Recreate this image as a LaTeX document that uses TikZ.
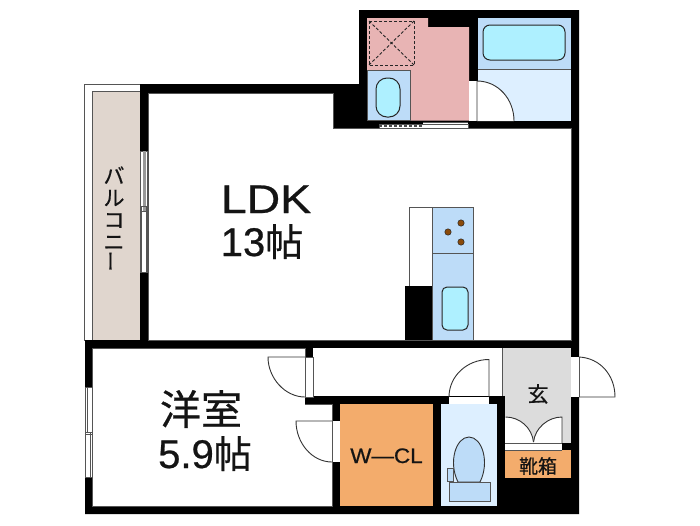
\documentclass[tikz,border=0pt]{standalone}
\usepackage{fontspec}
\setmainfont[FakeBold=0.6]{Liberation Sans}
\newfontfamily\cjk[FakeBold=0.6]{Noto Sans CJK JP}
\definecolor{beigeC}{HTML}{E0D6CE}
\definecolor{pinkC}{HTML}{E8B4B4}
\definecolor{blueC}{HTML}{BDDCF8}
\definecolor{lightC}{HTML}{DDEFFF}
\definecolor{cyanC}{HTML}{AEF0FF}
\definecolor{orangeC}{HTML}{F3AC6C}
\definecolor{grayC}{HTML}{DCDCDC}
\definecolor{edgeC}{HTML}{555555}
\definecolor{burnerC}{HTML}{8A4A0A}
\tikzset{
  room/.style={fill=#1,draw=none},
  doorline/.style={draw=black!80,line width=0.9pt},
  fixture/.style={draw=black!85,line width=1pt},
  lab/.style={inner sep=0pt,align=center,text=black!92},
  win/.style={fill=white,draw=edgeC,line width=0.5pt}
}
\begin{document}
\begin{tikzpicture}[x=1pt,y=-1pt]
\useasboundingbox (0,0) rectangle (700,525);
\fill[white] (0,0) rectangle (700,525);
% balcony
\draw[edgeC,line width=0.7pt,fill=white] (84,340) -- (84,84) -- (141,84) -- (141,340) -- cycle;
\fill[beigeC,draw=edgeC,line width=0.7pt] (92,340) -- (92,91.5) -- (141,91.5) -- (141,340) -- cycle;
\fill[white] (92.6,84.5) -- (140,84.5) -- (140,91) -- (92.6,91) -- cycle;
\fill[beigeC] (93,92) rectangle (140,340);
% wall mass
\fill[black] (359,10) -- (579,10) -- (579,514) -- (85,514) -- (85,340) -- (140,340) -- (140,84) -- (359,84) -- cycle;
% white rooms
\fill[room=white,draw=edgeC,line width=0.4pt] (148,93) -- (333,93) -- (333,128) -- (571,128) -- (571,340) -- (148,340) -- cycle;
\fill[room=white,draw=edgeC,line width=0.4pt] (92,348) -- (305,348) -- (305,404) -- (332,404) -- (332,506) -- (92,506) -- cycle;
\fill[black] (304.5,396.5) rectangle (332,404);
\fill[room=white] (313,348) rectangle (503,396);
% entrance
\fill[room=grayC] (502,348) rectangle (571,443);
\draw[edgeC,line width=0.7pt] (502,348) -- (502,396);
% sanitary block
\fill[room=pinkC] (367,18) -- (428,18) -- (428,27) -- (469,27) -- (469,120.5) -- (410,120.5) -- (410,70) -- (367,70) -- cycle;
\draw[black!85,line width=1pt,densely dashed] (369,21) rectangle (414,65);
\draw[black!85,line width=0.9pt,densely dashed] (369,21) -- (414,65) (414,21) -- (369,65);
\fill[room=blueC,draw=edgeC,line width=0.5pt] (367,70) rectangle (410,120.5);
\draw[fixture,fill=cyanC,rounded corners=11pt] (376,78) rectangle (400,117);
\fill[room=blueC,draw=none] (478,18) rectangle (571,69.5);
\fill[room=lightC] (478,70) rectangle (571,121);
\draw[edgeC,line width=0.7pt] (478,69.5) -- (571,69.5);
\draw[fixture,fill=cyanC,rounded corners=7pt] (483,25) rectangle (565,60);
% bath door
\fill[white] (469,81) rectangle (478,121);
\fill[white] (477,81) .. controls (498,81) and (514,99) .. (514,121) -- (477,121) -- cycle;
\draw[doorline] (477,121) -- (477,81) .. controls (498,81) and (514,99) .. (514,121);
% sliding door
\fill[white] (379,122) rectangle (468,128);
\fill[black] (379,122) rectangle (423,124);
\draw[edgeC,line width=0.4pt] (379,124) rectangle (468,128);
\draw[edgeC,line width=0.4pt] (423,122) -- (468,122);
\draw[black!70,line width=1.2pt,dash pattern=on 3pt off 2pt] (379,126) -- (423,126);
% kitchen
\fill[room=white,draw=edgeC,line width=0.7pt] (409,207) rectangle (432,290);
\fill[black] (405,286) rectangle (432,340);
\fill[room=blueC,draw=edgeC,line width=0.7pt] (432,207) rectangle (473.5,340.5);
\draw[edgeC,line width=0.7pt] (432,253) -- (473.5,253);
\foreach \bx/\by in {461/223,448/232,461/242}{
  \fill[fill=burnerC,draw=black!85,line width=0.5pt] (\bx,\by) circle (3.2);
}
\draw[fixture,fill=cyanC,rounded corners=5pt] (442,287) rectangle (468,330);
% windows
\fill[win] (140,151) rectangle (147.5,272);
\fill[black!40] (142.5,151) rectangle (146,211);
\draw[edgeC,line width=0.5pt] (141.5,206) rectangle (146,272);
\draw[edgeC,line width=0.5pt] (140,211) -- (147.5,211);
\fill[win] (85,387) rectangle (92,477);
\draw[edgeC,line width=0.4pt] (87,387) -- (87,432) (90,432) -- (90,477) (85,432) -- (92,432) (85,434) -- (92,434);
% W-CL and toilet
\fill[room=orangeC] (340,404) rectangle (433,506);
\fill[room=lightC] (441,404) rectangle (497,506);
\draw[black!80,line width=0.9pt,fill=blueC] (458,482) .. controls (448,462) and (456,437) .. (469,437) .. controls (482,437) and (490,462) .. (480,482) -- cycle;
\draw[edgeC,line width=0.8pt,fill=blueC] (447,468) rectangle (453,481);
\draw[edgeC,line width=0.8pt,fill=blueC] (449,482) rectangle (490,501);
% shoe box
\fill[room=orangeC] (505,450) rectangle (571,478);
\fill[black] (562,443) rectangle (571,450);
\fill[black] (497,396) rectangle (505,506);
\fill[room=white] (505,417) rectangle (562,450);
\fill[room=grayC] (505,417) -- (505,417) .. controls (520,417) and (533,428) .. (534,442) .. controls (535,428) and (548,417) .. (562,417) -- cycle;
\fill[grayC] (562,417) rectangle (571,443);
\draw[edgeC,line width=0.4pt] (505,443) -- (562,443) (505,450) -- (562,450);
\draw[doorline] (505.5,417) .. controls (520,417) and (532,428) .. (533.5,442);
\draw[doorline] (562,443) -- (562,417) .. controls (548,417) and (535,428) .. (533.5,442);
% doors
\fill[white] (305,357) rectangle (313,397);
\draw[edgeC,line width=0.5pt] (305,357) rectangle (313,397);
\draw[doorline] (305,357) -- (268,357) .. controls (268,378) and (285,397) .. (305,397);
\fill[white] (332,421) rectangle (340,462);
\draw[edgeC,line width=0.5pt] (332,421) -- (332,462);
\draw[doorline] (332,421) -- (296,421) .. controls (296,443) and (312,462) .. (332,462);
\fill[white] (449,397) rectangle (489,404);
\draw[doorline] (489,397) -- (489,359.5) .. controls (467,359.5) and (449,376) .. (449,397);
\fill[white] (571,357) rectangle (579,397);
\draw[edgeC,line width=0.5pt] (579,357) -- (579,397);
\draw[doorline] (579,357) .. controls (600,358) and (615,375) .. (615,397) -- (579,397);
% labels
\node[lab,anchor=base,xscale=1.16] (ldk) at (266,213) {\fontsize{40}{40}\selectfont LDK};
\node[lab,anchor=base] (ldkn) at (262,256) {\fontsize{40}{40}\selectfont 13{\cjk\fontsize{38}{38}\selectfont 帖}};
\node[lab] (yo) at (201,409) {\cjk\fontsize{41}{41}\selectfont 洋室};
\node[lab,anchor=base] (yon) at (205,468) {\fontsize{40}{40}\selectfont 5.9{\cjk\fontsize{38}{38}\selectfont 帖}};
\node[lab,anchor=base,xscale=1.07] (wcl) at (386.5,463) {\fontsize{21}{21}\selectfont W—CL};
\node[lab] (gen) at (538,394) {\cjk\fontsize{21}{21}\selectfont 玄};
\node[lab] (kutsu) at (538,466) {\cjk\fontsize{19}{19}\selectfont 靴箱};
\node[lab,font=\cjk\fontsize{21}{22}\selectfont] (bal) at (114,219) {バ\\ル\\コ\\ニ\\\rotatebox{90}{ー}};
\end{tikzpicture}
\end{document}
